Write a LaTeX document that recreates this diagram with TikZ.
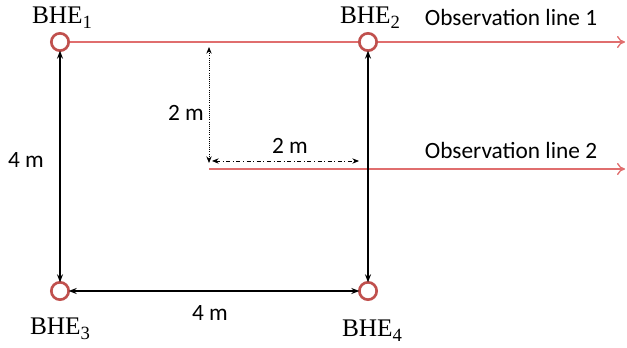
\documentclass[tikz,border=0pt]{standalone}
\usepackage{fontspec}
\setmainfont{Carlito}
\newfontfamily\bhefont{Liberation Serif}
\usetikzlibrary{arrows.meta, positioning}
\definecolor{WellRed}{RGB}{192, 80, 77}
\definecolor{LineRed}{RGB}{224, 110, 110}
\newcommand{\bhename}[1]{{\fontsize{19}{21}\bhefont BHE\raisebox{-0.4ex}{\fontsize{14}{15}\selectfont #1}}}

\tikzset{
    bhe/.style={circle, draw=WellRed, line width=2pt, fill=white, minimum size=13pt, inner sep=0pt, outer sep=0pt},
    txt/.style={font=\fontsize{17.5}{20}\selectfont, inner sep=1pt},
    obsline/.style={draw=LineRed, line width=1pt, -{To[length=6pt, width=9pt]}},
    dim/.style={black, line width=1pt, {Stealth[length=6pt, width=4.5pt]}-{Stealth[length=6pt, width=4.5pt]}},
    dimthin/.style={black, line width=0.6pt, {Stealth[length=5pt, width=4pt]}-{Stealth[length=5pt, width=4pt]}}
}

\begin{document}
\begin{tikzpicture}[x=0.75pt, y=-0.75pt]
        \useasboundingbox (0,0) rectangle (627,348);

        % observation lines
        \coordinate (obs1end) at (625,42);
        \coordinate (obs2start) at (209,169);
        \coordinate (obs2end) at (625,169);
        \draw[obsline] (60,42) -- (obs1end);
        \draw[obsline] (obs2start) -- (obs2end);

        % boreholes
        \node[bhe] (bhe1) at (60,42) {};
        \node[bhe] (bhe2) at (368,42) {};
        \node[bhe] (bhe3) at (60,291) {};
        \node[bhe] (bhe4) at (368,291) {};

        \node[txt] (lab1) at (62,18) {\bhename{1}};
        \node[txt] (lab2) at (370,18) {\bhename{2}};
        \node[txt] (lab3) at (60,329) {\bhename{3}};
        \node[txt] (lab4) at (372,331) {\bhename{4}};
        \node[txt] (obs1) at (511,17) {Observation line 1};
        \node[txt] (obs2) at (511,150) {Observation line 2};

        % spacing
        \draw[dim] (bhe1) -- (bhe3);
        \draw[dim] (bhe2) -- (bhe4);
        \draw[dim] (bhe3) -- (bhe4);

        \coordinate (dtop) at (209,47);
        \coordinate (dbot) at (209,163);
        \coordinate (hleft) at (212,161);
        \coordinate (hright) at (359,161);
        \draw[dimthin, densely dotted] (dtop) -- (dbot);
        \draw[dimthin, dash dot] (hleft) -- (hright);

        \node[txt] (d1) at (26,160) {4 m};
        \node[txt] (d2) at (210,313) {4 m};
        \node[txt] (d3) at (186,113) {2 m};
        \node[txt] (d4) at (290,146) {2 m};
    \end{tikzpicture}
\end{document}
